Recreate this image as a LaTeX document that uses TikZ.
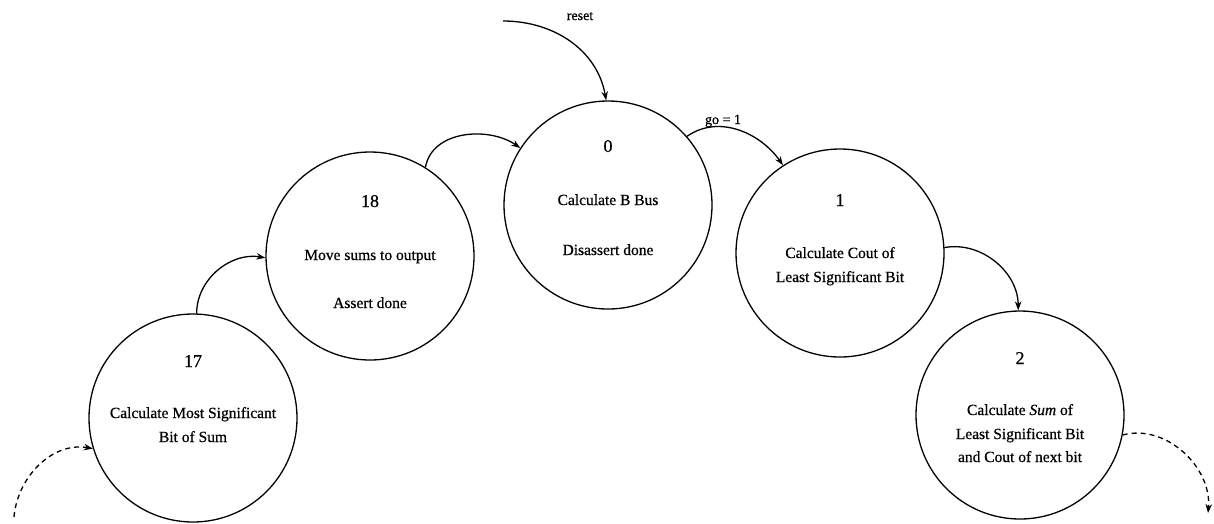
\documentclass[tikz,border=0pt]{standalone}
\usepackage{fontspec}
\setmainfont{Liberation Serif}
\newfontfamily\heavy{Liberation Serif}[FakeBold=0.6]
\usetikzlibrary{arrows.meta}
\begin{document}
\begin{tikzpicture}[x=1pt,y=-1pt,
  state/.style={circle,draw,line width=1.3pt,minimum size=208pt,inner sep=0pt},
  num/.style={anchor=base,font=\heavy\fontsize{18}{18}\selectfont,inner sep=0pt},
  txt/.style={anchor=base,font=\heavy\fontsize{15.5}{15.5}\selectfont,inner sep=0pt},
  lbl/.style={anchor=base,font=\heavy\fontsize{14}{14}\selectfont,inner sep=0pt},
  conn/.style={line width=1.3pt,-{Stealth[length=9pt,width=6.5pt]}},
  dconn/.style={conn,dashed,dash pattern=on 5pt off 4pt}]
\useasboundingbox (0,0) rectangle (1214,523);
\node[state] (c17) at (193,418) {};
\node[state] (c18) at (370,256) {};
\node[state] (c0) at (608,205) {};
\node[state] (c1) at (840,253) {};
\node[state] (c2) at (1020,415) {};
% texts
\node[num] (n0) at (608,152) {0};
\node[txt] (t0a) at (608,205) {Calculate B Bus};
\node[txt] (t0b) at (608,255) {Disassert done};
\node[num] (n18) at (370,207) {18};
\node[txt] (t18a) at (370,260) {Move sums to output};
\node[txt] (t18b) at (370,308) {Assert done};
\node[num] (n1) at (840,206) {1};
\node[txt] (t1a) at (840,258) {Calculate Cout of};
\node[txt] (t1b) at (840,282) {Least Significant Bit};
\node[num] (n17) at (193,367) {17};
\node[txt] (t17a) at (193,418) {Calculate Most Significant};
\node[txt] (t17b) at (193,442) {Bit of Sum};
\node[num] (n2) at (1020,364) {2};
\node[txt] (t2a) at (1020,415) {Calculate {\itshape Sum} of};
\node[txt] (t2b) at (1020,439) {Least Significant Bit};
\node[txt] (t2c) at (1020,462) {and Cout of next bit};
% connectors
\coordinate (rs) at (503,21);
\draw[conn] (rs) to[out=0,in=100] (c0.91);
\node[lbl] (lreset) at (580,20) {reset};
\draw[conn] (c0.41) to[out=35,in=125] (c1.123);
\node[lbl] (lgo) at (723,124) {go = 1};
\draw[conn] (c18.58) to[out=80,in=145] (c0.147);
\draw[conn] (c17.88) to[out=90,in=170] (c18.181);
\draw[conn] (c1.3) to[out=10,in=90] (c2.91);
\coordinate (ds) at (14,517);
\draw[dconn] (ds) to[out=85,in=170] (c17.197);
\coordinate (de) at (1208,513);
\draw[dconn] (c2.349) to[out=15,in=85] (de);
\end{tikzpicture}
\end{document}
